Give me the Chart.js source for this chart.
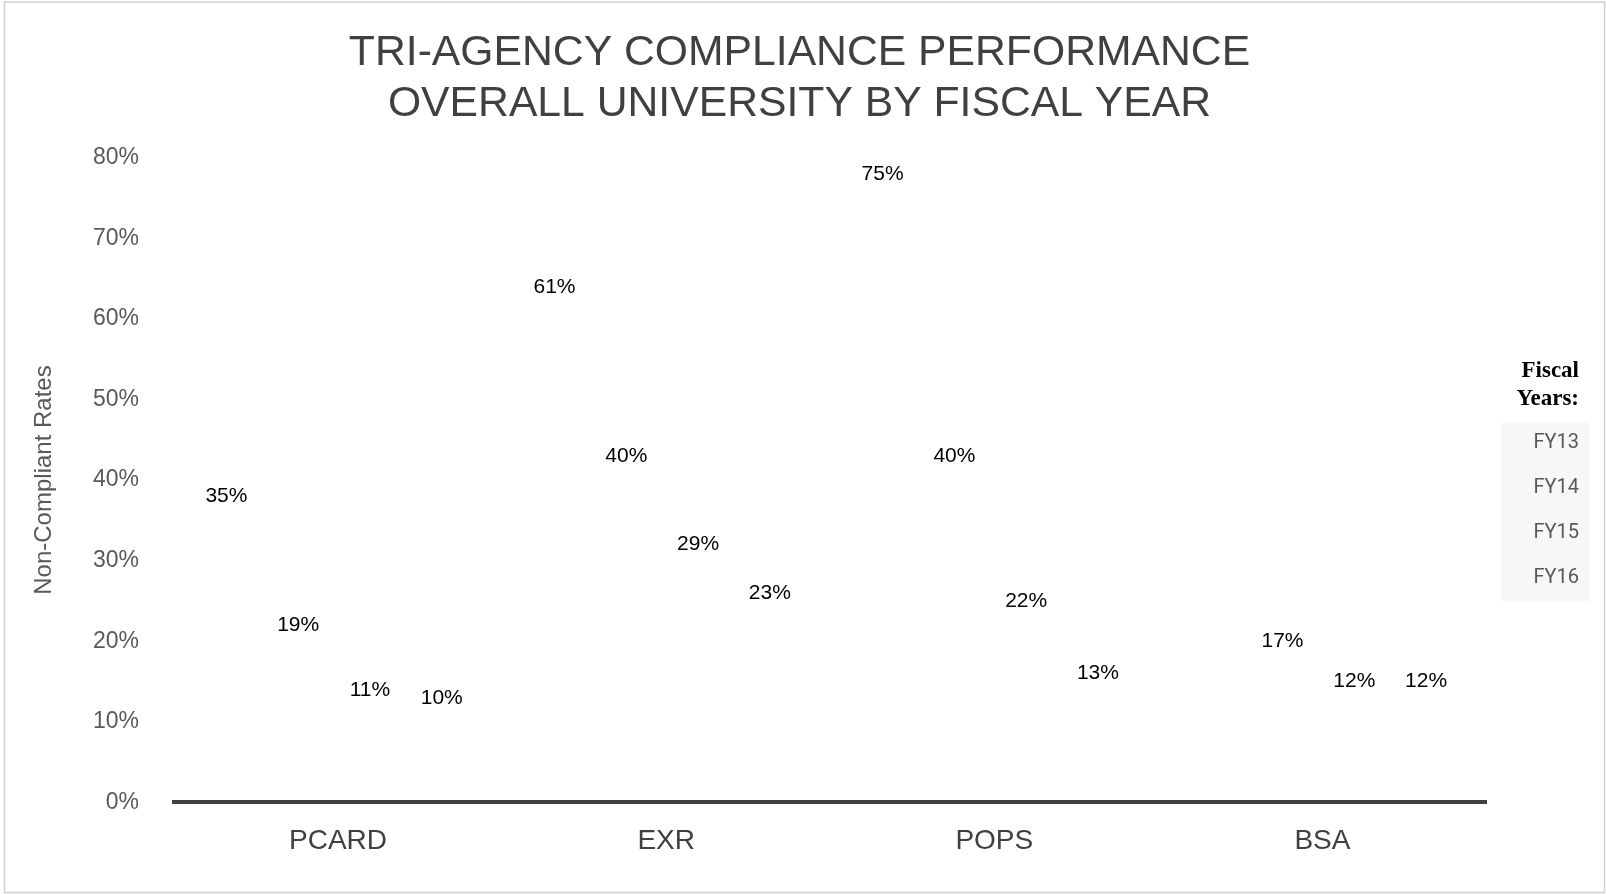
<!DOCTYPE html>
<html>
<head>
<meta charset="utf-8">
<script src="https://cdn.jsdelivr.net/npm/chart.js@4.4.1/dist/chart.umd.min.js"></script>
<style>
  html, body { margin: 0; padding: 0; background: #fff; overflow: hidden; }
  #wrap { position: relative; width: 1606px; height: 894px; }
</style>
</head>
<body>
<div id="wrap"><canvas id="chart"></canvas></div>
<script>
const categories = ['PCARD', 'EXR', 'POPS', 'BSA'];
const fiscalYears = ['FY13', 'FY14', 'FY15', 'FY16'];
const fy13 = [35, 61, 75, null];
const fy14 = [19, 40, 40, 17];
const fy15 = [11, 29, 22, 12];
const fy16 = [10, 23, 13, 12];
const yTicks = [0, 10, 20, 30, 40, 50, 60, 70, 80];
const legendHeading = ['Fiscal', 'Years:'];

const seriesValues = [fy13, fy14, fy15, fy16];

// labels above the (invisible) bars
const valueLabels = {
  id: 'valueLabels',
  afterDatasetsDraw(chart) {
    const ctx = chart.ctx;
    ctx.save();
    ctx.font = '21px "Liberation Sans", Arial, sans-serif';
    ctx.fillStyle = '#000';
    ctx.textAlign = 'center';
    ctx.textBaseline = 'middle';
    chart.data.datasets.forEach((ds, i) => {
      const meta = chart.getDatasetMeta(i);
      meta.data.forEach((bar, j) => {
        const v = ds.data[j];
        if (v == null) return;
        ctx.fillText(v + '%', bar.x - 4, bar.y - 24);
      });
    });
    ctx.restore();
  }
};

// grey panel behind legend items, legend heading, outer frame
const decor = {
  id: 'decor',
  beforeDraw(chart) {
    const ctx = chart.ctx;
    const lg = chart.legend;
    if (!lg || !lg.legendHitBoxes || !lg.legendHitBoxes.length) return;
    const boxes = lg.legendHitBoxes;
    const first = boxes[0];
    const last = boxes[boxes.length - 1];
    ctx.save();
    ctx.fillStyle = '#f7f7f7';
    ctx.fillRect(lg.left + 15, first.top - 11, lg.right - lg.left - 15, last.top + last.height + 13 - (first.top - 11));
    ctx.fillStyle = '#000';
    ctx.font = 'bold 23px "Liberation Serif", "Times New Roman", serif';
    ctx.textAlign = 'right';
    ctx.textBaseline = 'middle';
    const midY = first.top + first.height / 2;
    ctx.fillText(legendHeading[0], lg.right - 10, midY - 72);
    ctx.fillText(legendHeading[1], lg.right - 10, midY - 44);
    ctx.restore();
  },
  afterDraw(chart) {
    const ctx = chart.ctx;
    ctx.save();
    ctx.strokeStyle = '#d0d0d0';
    ctx.lineWidth = 1.5;
    ctx.strokeRect(4.5, 2, 1600, 890.5);
    ctx.restore();
  }
};

new Chart(document.getElementById('chart'), {
  type: 'bar',
  data: {
    labels: categories,
    datasets: fiscalYears.map((fy, i) => ({
      label: fy,
      data: seriesValues[i],
      backgroundColor: 'rgba(0,0,0,0)',
      borderWidth: 0
    }))
  },
  options: {
    responsive: true,
    maintainAspectRatio: false,
    animation: false,
    datasets: {
      bar: { categoryPercentage: 0.875, barPercentage: 1 }
    },
    layout: { padding: { left: 10, right: 17, top: 0, bottom: 14 } },
    plugins: {
      title: {
        display: true,
        text: ['TRI-AGENCY COMPLIANCE PERFORMANCE', 'OVERALL UNIVERSITY BY FISCAL YEAR'],
        color: '#404040',
        font: { family: '"Liberation Sans", Arial, sans-serif', size: 42.7, weight: 'normal', lineHeight: 1.19 },
        padding: { top: 28, bottom: 28 }
      },
      legend: {
        position: 'right',
        align: 'center',
        fullSize: false,
        title: {
          display: true,
          text: ' ',
          color: 'rgba(0,0,0,0)',
          font: { size: 23, lineHeight: 1.2 },
          padding: 17
        },
        labels: {
          boxWidth: 12,
          boxHeight: 20,
          padding: 25,
          color: '#595959',
          font: { family: 'Roboto, sans-serif', size: 20 }
        }
      },
      tooltip: { enabled: false }
    },
    scales: {
      x: {
        grid: { display: false, drawTicks: false },
        border: { display: true, color: '#404040', width: 4 },
        ticks: {
          padding: 22,
          color: '#404040',
          font: { family: '"Liberation Sans", Arial, sans-serif', size: 28 }
        }
      },
      y: {
        min: 0,
        max: 80,
        afterBuildTicks(scale) {
          scale.ticks = yTicks.map(v => ({ value: v }));
        },
        afterFit(scale) { scale.width = 164; },
        grid: { display: false, drawTicks: false },
        border: { display: false },
        ticks: {
          padding: 35,
          color: '#595959',
          font: { family: '"Liberation Sans", Arial, sans-serif', size: 23 },
          callback: v => v + '%'
        },
        title: {
          display: true,
          text: 'Non-Compliant Rates',
          color: '#595959',
          font: { family: '"Liberation Sans", Arial, sans-serif', size: 24 },
          padding: { top: 20, bottom: 0 }
        }
      }
    }
  },
  plugins: [valueLabels, decor]
});
</script>
</body>
</html>
